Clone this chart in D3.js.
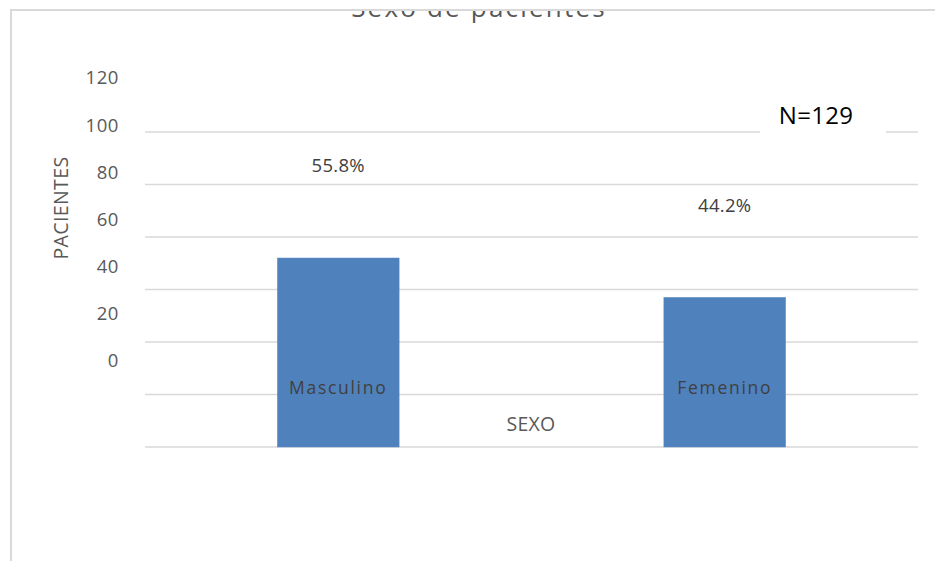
<!DOCTYPE html>
<html>
<head>
<meta charset="utf-8">
<script src="https://cdn.jsdelivr.net/npm/d3@7"></script>
<style>
  html, body { margin: 0; padding: 0; background: #fff; }
  svg { display: block; font-family: "Open Sans", sans-serif; }
</style>
</head>
<body>
<svg id="chart" width="935" height="561"></svg>
<script>
// Patients by sex
const categories = ["Masculino", "Femenino"];
const patients = [72, 57];
const percentLabels = ["55.8%", "44.2%"];
const tickValues = [0, 20, 40, 60, 80, 100, 120];
const totalLabel = "N=129";

const svg = d3.select("#chart");
const W = 935, H = 561;
const plot = { left: 145, right: 918, top: 132, bottom: 447 };

// Chart area frame
svg.append("rect")
  .attr("x", 11).attr("y", 10)
  .attr("width", 960).attr("height", 600)
  .attr("fill", "#fff")
  .attr("stroke", "#d9d9d9").attr("stroke-width", 2);

// Title, clipped by the frame edge
svg.append("clipPath").attr("id", "frameClip")
  .append("rect").attr("x", 12).attr("y", 11).attr("width", W).attr("height", H);
svg.append("text")
  .attr("clip-path", "url(#frameClip)")
  .attr("x", 479).attr("y", 17)
  .attr("text-anchor", "middle")
  .attr("font-size", 26)
  .attr("letter-spacing", 2.2)
  .attr("fill", "#595959")
  .text("Sexo de pacientes");

const x = d3.scaleBand()
  .domain(categories)
  .range([plot.left, plot.right])
  .paddingInner(0.685).paddingOuter(0.3425);

const y = d3.scaleLinear().domain([0, 120]).range([plot.bottom, plot.top]);

// Value labels sit on their own, more compressed, vertical scale
const yLabel = d3.scaleLinear().domain([0, 120]).range([361, 78]);

// Gridlines
svg.append("g")
  .selectAll("line")
  .data(tickValues)
  .join("line")
  .attr("x1", plot.left).attr("x2", plot.right)
  .attr("y1", d => y(d)).attr("y2", d => y(d))
  .attr("stroke", "#d9d9d9")
  .attr("stroke-width", 1.5);

// Y tick labels
svg.append("g")
  .selectAll("text")
  .data(tickValues)
  .join("text")
  .attr("x", 119)
  .attr("y", d => yLabel(d))
  .attr("dy", "0.35em")
  .attr("text-anchor", "end")
  .attr("font-size", 18.5)
  .attr("letter-spacing", 0.6)
  .attr("fill", "#595959")
  .text(d => d);

// Y axis title
svg.append("text")
  .attr("transform", "translate(61,208) rotate(-90)")
  .attr("text-anchor", "middle")
  .attr("dy", "0.35em")
  .attr("font-size", 19.5)
  .attr("letter-spacing", 0.4)
  .attr("fill", "#595959")
  .text("PACIENTES");

// Bars
svg.append("g")
  .selectAll("rect")
  .data(categories)
  .join("rect")
  .attr("x", d => x(d))
  .attr("width", x.bandwidth())
  .attr("y", (d, i) => y(patients[i]))
  .attr("height", (d, i) => y(0) - y(patients[i]))
  .attr("fill", "#4f81bd")
  .attr("stroke", "#5b8cc6")
  .attr("stroke-width", 0.5);

// Category labels inside bars
svg.append("g")
  .selectAll("text")
  .data(categories)
  .join("text")
  .attr("x", d => x(d) + x.bandwidth() / 2)
  .attr("y", 388)
  .attr("dy", "0.35em")
  .attr("text-anchor", "middle")
  .attr("font-size", 17.5)
  .attr("letter-spacing", 1.7)
  .attr("fill", "#404040")
  .text(d => d);

// Percent labels above bars
svg.append("g")
  .selectAll("text")
  .data(categories)
  .join("text")
  .attr("x", d => x(d) + x.bandwidth() / 2)
  .attr("y", (d, i) => y(patients[i]) - 92)
  .attr("dy", "0.35em")
  .attr("text-anchor", "middle")
  .attr("font-size", 18.5)
  .attr("letter-spacing", 0.3)
  .attr("fill", "#404040")
  .text((d, i) => percentLabels[i]);

// X axis title
svg.append("text")
  .attr("x", 531).attr("y", 424)
  .attr("dy", "0.35em")
  .attr("text-anchor", "middle")
  .attr("font-size", 19.5)
  .attr("letter-spacing", 0.3)
  .attr("fill", "#595959")
  .text("SEXO");

// Sample size box
svg.append("rect")
  .attr("x", 760).attr("y", 96)
  .attr("width", 126).attr("height", 44)
  .attr("fill", "#fff");
svg.append("text")
  .attr("x", 816).attr("y", 116)
  .attr("dy", "0.35em")
  .attr("text-anchor", "middle")
  .attr("font-size", 24)
  .attr("letter-spacing", 0.3)
  .attr("fill", "#000")
  .text(totalLabel);
</script>
</body>
</html>
